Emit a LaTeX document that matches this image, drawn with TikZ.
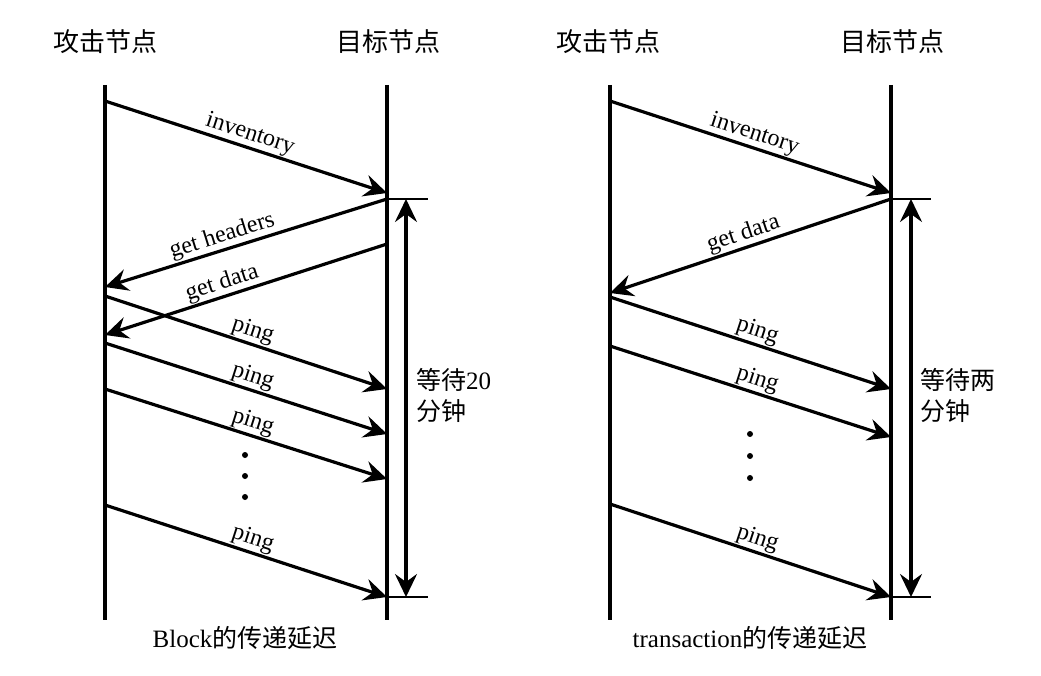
\documentclass[tikz,border=0pt]{standalone}
\usepackage{fontspec}
\setmainfont{Liberation Serif}
\newfontfamily\cjk{Noto Sans CJK SC}
\usetikzlibrary{arrows.meta}
\begin{document}
\begin{tikzpicture}[x=1pt,y=-1pt,
  lifeline/.style={line width=4pt},
  msgarr/.style={line width=3.2pt,-{Stealth[length=23pt,width=22pt,inset=8pt]}},
  msgarrl/.style={line width=3.2pt,{Stealth[length=23pt,width=22pt,inset=8pt]}-},
  spanarr/.style={line width=3.2pt,{Stealth[length=23pt,width=22pt,inset=8pt]}-{Stealth[length=23pt,width=22pt,inset=8pt]}},
  tickline/.style={line width=1.8pt},
  msglbl/.style={sloped,above,inner sep=1pt,font=\fontsize{24}{26}\selectfont},
  headtxt/.style={inner sep=0pt,font=\cjk\fontsize{26}{30}\selectfont},
  captxt/.style={inner sep=0pt,font=\fontsize{25}{28}\selectfont},
  waittxt/.style={inner sep=0pt,anchor=west,align=left,font=\fontsize{25}{31}\selectfont},
  dotmark/.style={circle,fill,inner sep=0pt,minimum size=6pt}]
\useasboundingbox (0,0) rectangle (1041,676);

% ---------------- left diagram ----------------
\node[headtxt] (hA1) at (105,42) {攻击节点};
\node[headtxt] (hT1) at (388,42) {目标节点};
\coordinate (A1t) at (105,85);  \coordinate (A1b) at (105,620);
\coordinate (T1t) at (387,85);  \coordinate (T1b) at (387,620);
\draw[lifeline] (A1t) -- (A1b);
\draw[lifeline] (T1t) -- (T1b);

\coordinate (i1a) at (105,101); \coordinate (i1b) at (387,193);
\draw[msgarr] (i1a) -- node[msglbl]{inventory} (i1b);

\coordinate (gh1l) at (105,287); \coordinate (gh1r) at (387,199);
\draw[msgarrl] (gh1l) -- node[msglbl,pos=0.43]{get headers} (gh1r);
\coordinate (gd1l) at (105,335); \coordinate (gd1r) at (387,244);
\draw[msgarrl] (gd1l) -- node[msglbl,pos=0.43]{get data} (gd1r);

\coordinate (p1a) at (105,296); \coordinate (p1b) at (387,389);
\draw[msgarr] (p1a) -- node[msglbl,pos=0.51]{ping} (p1b);
\coordinate (p2a) at (105,343); \coordinate (p2b) at (387,434);
\draw[msgarr] (p2a) -- node[msglbl,pos=0.51]{ping} (p2b);
\coordinate (p3a) at (105,389); \coordinate (p3b) at (387,479);
\draw[msgarr] (p3a) -- node[msglbl,pos=0.51]{ping} (p3b);
\coordinate (p4a) at (105,505); \coordinate (p4b) at (387,597);
\draw[msgarr] (p4a) -- node[msglbl,pos=0.51]{ping} (p4b);

\node[dotmark] (d11) at (245,455) {};
\node[dotmark] (d12) at (245,476) {};
\node[dotmark] (d13) at (245,497) {};

\coordinate (bt1) at (428,199); \coordinate (bb1) at (428,597);
\coordinate (bt1s) at (387,199); \coordinate (bb1s) at (387,597);
\draw[tickline] (bt1s) -- (bt1);
\draw[tickline] (bb1s) -- (bb1);
\coordinate (v1t) at (406,199); \coordinate (v1b) at (406,597);
\draw[spanarr] (v1t) -- (v1b);
\node[waittxt] (w1) at (416,395) {{\cjk 等待}20\\{\cjk 分钟}};

\node[captxt] (c1) at (245,638) {Block{\cjk 的传递延迟}};

% ---------------- right diagram ----------------
\node[headtxt] (hA2) at (608,42) {攻击节点};
\node[headtxt] (hT2) at (892,42) {目标节点};
\coordinate (A2t) at (610,85);  \coordinate (A2b) at (610,620);
\coordinate (T2t) at (891,85);  \coordinate (T2b) at (891,620);
\draw[lifeline] (A2t) -- (A2b);
\draw[lifeline] (T2t) -- (T2b);

\coordinate (i2a) at (610,101); \coordinate (i2b) at (891,193);
\draw[msgarr] (i2a) -- node[msglbl]{inventory} (i2b);

\coordinate (gd2l) at (610,293); \coordinate (gd2r) at (891,199);
\draw[msgarrl] (gd2l) -- node[msglbl,pos=0.49]{get data} (gd2r);

\coordinate (q1a) at (610,297); \coordinate (q1b) at (891,389);
\draw[msgarr] (q1a) -- node[msglbl,pos=0.51]{ping} (q1b);
\coordinate (q2a) at (610,346); \coordinate (q2b) at (891,437);
\draw[msgarr] (q2a) -- node[msglbl,pos=0.51]{ping} (q2b);
\coordinate (q3a) at (610,504); \coordinate (q3b) at (891,597);
\draw[msgarr] (q3a) -- node[msglbl,pos=0.51]{ping} (q3b);

\node[dotmark] (d21) at (750,434) {};
\node[dotmark] (d22) at (750,456) {};
\node[dotmark] (d23) at (750,478) {};

\coordinate (bt2) at (931,199); \coordinate (bb2) at (931,597);
\coordinate (bt2s) at (891,199); \coordinate (bb2s) at (891,597);
\draw[tickline] (bt2s) -- (bt2);
\draw[tickline] (bb2s) -- (bb2);
\coordinate (v2t) at (911,199); \coordinate (v2b) at (911,597);
\draw[spanarr] (v2t) -- (v2b);
\node[waittxt] (w2) at (920,395) {{\cjk 等待两}\\{\cjk 分钟}};

\node[captxt] (c2) at (750,638) {transaction{\cjk 的传递延迟}};
\end{tikzpicture}
\end{document}
